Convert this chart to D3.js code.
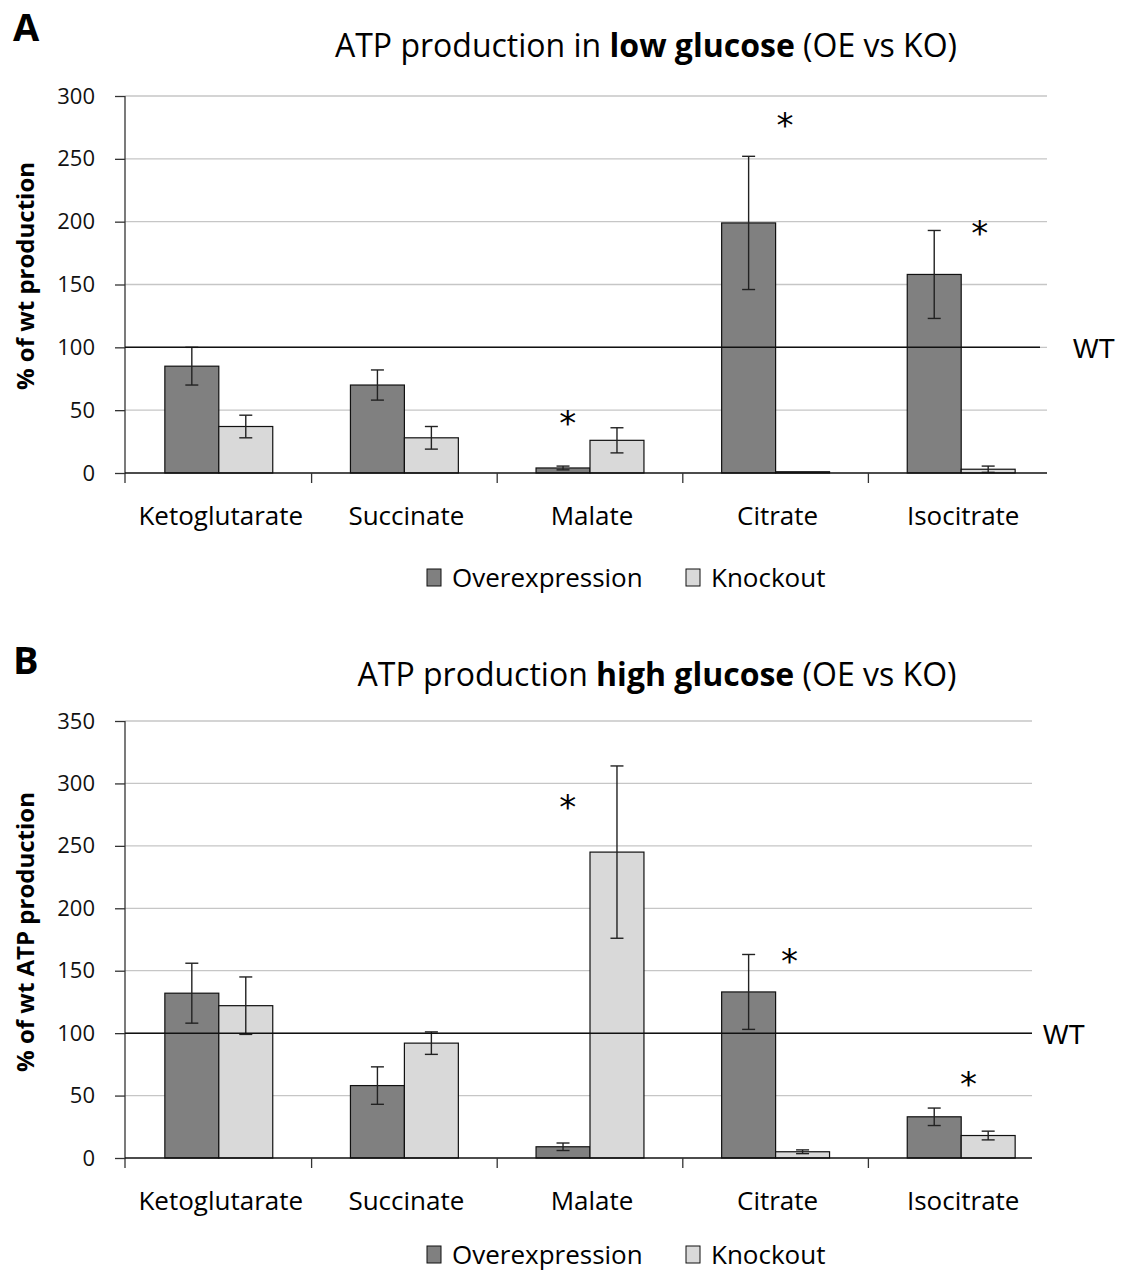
<!DOCTYPE html>
<html>
<head>
<meta charset="utf-8">
<script src="https://cdn.jsdelivr.net/npm/d3@7"></script>
<style>
	body { margin: 0; background: #fff; }
	svg { display: block; font-family: "Open Sans", sans-serif; }
</style>
</head>
<body>
<div id="chart"></div>
<script>
// categories and series
var categories = ["Ketoglutarate", "Succinate", "Malate", "Citrate", "Isocitrate"];
var seriesNames = ["Overexpression", "Knockout"];

// panel A: low glucose (% of wt production)
var lowOE = [85, 70, 4, 199, 158];
var lowOEErr = [15, 12, 1.5, 53, 35];
var lowKO = [37, 28, 26, 1, 3];
var lowKOErr = [9, 9, 10, 0, 2.5];
var lowTicks = [0, 50, 100, 150, 200, 250, 300];
// asterisks: category, height in data units, position inside the category band
var lowStars = [
	{cat: "Malate", value: 44, at: 0.38},
	{cat: "Citrate", value: 281, at: 0.55},
	{cat: "Isocitrate", value: 195, at: 0.6}
];

// panel B: high glucose (% of wt ATP production)
var highOE = [132, 58, 9, 133, 33];
var highOEErr = [24, 15, 3, 30, 7];
var highKO = [122, 92, 245, 5, 18];
var highKOErr = [23, 9, 69, 1.5, 3.5];
var highTicks = [0, 50, 100, 150, 200, 250, 300, 350];
var highStars = [
	{cat: "Malate", value: 285, at: 0.38},
	{cat: "Citrate", value: 162, at: 0.575},
	{cat: "Isocitrate", value: 63, at: 0.54}
];

var wtLevel = 100;
var colors = {Overexpression: "#808080", Knockout: "#d9d9d9"};

var svg = d3.select("#chart").append("svg")
	.attr("width", 1131)
	.attr("height", 1274);

function drawPanel(opts){
	var g = svg.append("g");
	var left = 126, right = 1054;

	var x = d3.scaleBand().domain(categories).range([left, right]);
	var xs = d3.scaleBand().domain(seriesNames).range([0, x.bandwidth()]).paddingOuter(0.72);
	var y = d3.scaleLinear().domain([0, opts.ticks[opts.ticks.length-1]]).range([opts.bottom, opts.top]);

	// panel letter
	g.append("text")
		.attr("x", 13).attr("y", opts.letterY)
		.attr("font-size", "38px").attr("font-weight", "bold")
		.text(opts.letter);

	// title with bold middle part
	var title = g.append("text")
		.attr("x", opts.titleX).attr("y", opts.titleY)
		.attr("text-anchor", "middle")
		.attr("font-size", "32px");
	title.append("tspan").text(opts.title[0]);
	title.append("tspan").attr("font-weight", "bold").text(opts.title[1]);
	title.append("tspan").text(opts.title[2]);

	// gridlines
	g.append("g").selectAll("line")
		.data(opts.ticks.filter(function(d){ return d > 0; }))
		.enter().append("line")
		.attr("x1", 125).attr("x2", opts.gridRight)
		.attr("y1", function(d){ return y(d); })
		.attr("y2", function(d){ return y(d); })
		.attr("stroke", "#c6c6c6").attr("stroke-width", 1.3);

	// y axis
	var yAxis = g.append("g")
		.attr("transform", "translate(125,0)")
		.call(d3.axisLeft(y).tickValues(opts.ticks).tickSize(10).tickPadding(20));
	yAxis.select(".domain").remove();
	yAxis.selectAll(".tick line").attr("stroke", "#333").attr("stroke-width", 1.3);
	yAxis.selectAll(".tick text").attr("font-size", "22px").attr("fill", "#111")
		.attr("font-family", "'Open Sans', sans-serif");
	g.append("line")
		.attr("x1", 125).attr("x2", 125)
		.attr("y1", opts.top).attr("y2", opts.bottom + 10)
		.attr("stroke", "#333").attr("stroke-width", 1.3);

	// y axis title
	g.append("text")
		.attr("transform", "translate(34," + opts.yLabelMid + ") rotate(-90)")
		.attr("text-anchor", "middle")
		.attr("font-size", "24px").attr("font-weight", "bold")
		.text(opts.yLabel);

	// bars
	var rows = categories.map(function(c, i){
		return [
			{cat: c, key: "Overexpression", value: opts.oe[i], err: opts.oeErr[i]},
			{cat: c, key: "Knockout", value: opts.ko[i], err: opts.koErr[i]}
		];
	});
	var groups = g.append("g").selectAll("g.bar-container")
		.data(rows)
		.enter().append("g")
		.attr("class", "bar-container")
		.attr("transform", function(d){ return "translate(" + x(d[0].cat) + ",0)"; });

	groups.selectAll("rect")
		.data(function(d){ return d; })
		.enter().append("rect")
		.attr("x", function(d){ return xs(d.key); })
		.attr("y", function(d){ return y(d.value); })
		.attr("width", xs.bandwidth())
		.attr("height", function(d){ return opts.bottom - y(d.value); })
		.attr("fill", function(d){ return colors[d.key]; })
		.attr("stroke", "#111").attr("stroke-width", 1.2);

	// error bars
	var errs = groups.selectAll("g.err")
		.data(function(d){ return d.filter(function(e){ return e.err > 0; }); })
		.enter().append("g")
		.attr("class", "err")
		.attr("stroke", "#222").attr("stroke-width", 1.4);
	var cx = function(d){ return xs(d.key) + xs.bandwidth() / 2; };
	errs.append("line")
		.attr("x1", cx).attr("x2", cx)
		.attr("y1", function(d){ return y(d.value + d.err); })
		.attr("y2", function(d){ return y(d.value - d.err); });
	[1, -1].forEach(function(s){
		errs.append("line")
			.attr("x1", function(d){ return cx(d) - 6.5; })
			.attr("x2", function(d){ return cx(d) + 6.5; })
			.attr("y1", function(d){ return y(d.value + s * d.err); })
			.attr("y2", function(d){ return y(d.value + s * d.err); });
	});

	// WT reference line
	g.append("line")
		.attr("x1", 125).attr("x2", opts.wtRight)
		.attr("y1", y(wtLevel)).attr("y2", y(wtLevel))
		.attr("stroke", "#111").attr("stroke-width", 1.5);
	g.append("text")
		.attr("x", opts.wtX).attr("y", y(wtLevel) + 11)
		.attr("font-size", "27px").attr("font-family", "'Liberation Sans', Arial, sans-serif")
		.text("WT");

	// x axis
	g.append("line")
		.attr("x1", 125).attr("x2", opts.gridRight)
		.attr("y1", opts.bottom).attr("y2", opts.bottom)
		.attr("stroke", "#111").attr("stroke-width", 1.4);
	g.append("g").selectAll("line")
		.data(categories.slice(1))
		.enter().append("line")
		.attr("x1", function(d){ return x(d); })
		.attr("x2", function(d){ return x(d); })
		.attr("y1", opts.bottom).attr("y2", opts.bottom + 10)
		.attr("stroke", "#333").attr("stroke-width", 1.3);
	g.append("g").selectAll("text")
		.data(categories)
		.enter().append("text")
		.attr("x", function(d){ return x(d) + x.bandwidth() / 2 + 2; })
		.attr("y", opts.bottom + 52)
		.attr("text-anchor", "middle")
		.attr("font-size", "26px")
		.text(function(d){ return d; });

	// significance asterisks
	g.append("g").selectAll("text")
		.data(opts.stars)
		.enter().append("text")
		.attr("x", function(d){ return x(d.cat) + d.at * x.bandwidth(); })
		.attr("y", function(d){ return y(d.value) + 17; })
		.attr("text-anchor", "middle")
		.attr("font-size", "34px").attr("font-family", "'DejaVu Sans', sans-serif")
		.text("*");

	// legend
	var legend = g.append("g").attr("transform", "translate(0," + opts.legendY + ")");
	var lx = [427, 686];
	seriesNames.forEach(function(s, i){
		legend.append("rect")
			.attr("x", lx[i]).attr("y", -18)
			.attr("width", 14).attr("height", 17)
			.attr("fill", colors[s]).attr("stroke", "#111").attr("stroke-width", 1);
		legend.append("text")
			.attr("x", lx[i] + 25).attr("y", 0)
			.attr("font-size", "26px")
			.text(s);
	});
}

drawPanel({
	letter: "A", letterY: 41,
	title: ["ATP production in ", "low glucose", " (OE vs KO)"], titleX: 646, titleY: 57,
	yLabel: "% of wt production", yLabelMid: 276,
	oe: lowOE, oeErr: lowOEErr, ko: lowKO, koErr: lowKOErr,
	ticks: lowTicks, stars: lowStars,
	top: 96, bottom: 473, gridRight: 1047, wtRight: 1040, wtX: 1073,
	legendY: 587
});

drawPanel({
	letter: "B", letterY: 674,
	title: ["ATP production ", "high glucose", " (OE vs KO)"], titleX: 657, titleY: 686,
	yLabel: "% of wt ATP production", yLabelMid: 932,
	oe: highOE, oeErr: highOEErr, ko: highKO, koErr: highKOErr,
	ticks: highTicks, stars: highStars,
	top: 721, bottom: 1158, gridRight: 1032, wtRight: 1032, wtX: 1043,
	legendY: 1264
});
</script>
</body>
</html>
